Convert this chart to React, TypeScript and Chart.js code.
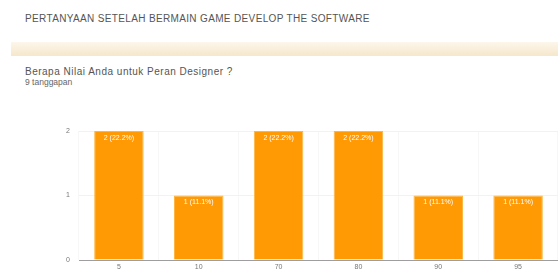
import React, { useEffect, useRef } from "react";
import { Chart, registerables } from "chart.js";

Chart.register(...registerables);

const sectionTitle = "PERTANYAAN SETELAH BERMAIN GAME DEVELOP THE SOFTWARE";
const question = "Berapa Nilai Anda untuk Peran Designer ?";
const responsesText = "9 tanggapan";
const categories = ["5", "10", "70", "80", "90", "95"];
const counts = [2, 1, 2, 2, 1, 1];
const barLabels = ["2 (22.2%)", "1 (11.1%)", "2 (22.2%)", "2 (22.2%)", "1 (11.1%)", "1 (11.1%)"];
const yTicks = [0, 1, 2];

const FONT = "'Liberation Sans', Arial, sans-serif";

const barLabelPlugin = {
  id: "barLabels",
  afterDatasetsDraw(chart: any) {
    const ctx = chart.ctx;
    const meta = chart.getDatasetMeta(0);
    ctx.save();
    ctx.fillStyle = "#ffffff";
    ctx.font = `7px ${FONT}`;
    ctx.textAlign = "center";
    ctx.textBaseline = "middle";
    meta.data.forEach((bar: any, i: number) => {
      ctx.fillText(barLabels[i], bar.x, bar.y + 7);
    });
    ctx.restore();
  },
};

export default function App() {
  const ref = useRef<HTMLCanvasElement | null>(null);

  useEffect(() => {
    document.body.style.margin = "0";
    if (!ref.current) return;
    const chart = new Chart(ref.current, {
      type: "bar",
      data: {
        labels: categories,
        datasets: [
          {
            data: counts,
            backgroundColor: "#ff9a05",
            borderColor: "#ffb540",
            borderWidth: 1,
            categoryPercentage: 1,
            barPercentage: 0.62,
          },
        ],
      },
      options: {
        animation: false,
        responsive: false,
        maintainAspectRatio: false,
        layout: { padding: { top: 21, right: 0, bottom: 0, left: 0 } },
        plugins: { legend: { display: false }, tooltip: { enabled: false } },
        scales: {
          x: {
            offset: true,
            grid: { color: "#f7f7f7", drawTicks: false, offset: true },
            border: { color: "#9e9e9e" },
            ticks: { color: "#777", font: { size: 7, family: FONT }, padding: 3 },
            afterFit(scale: any) {
              scale.height = 14;
            },
          },
          y: {
            min: 0,
            max: 2,
            afterBuildTicks(scale: any) {
              scale.ticks = yTicks.map((v) => ({ value: v }));
            },
            grid: { color: "#f2f2f2", drawTicks: false },
            border: { display: false },
            ticks: { color: "#777", font: { size: 7, family: FONT }, padding: 9 },
            afterFit(scale: any) {
              scale.width = 79;
            },
          },
        },
      },
      plugins: [barLabelPlugin],
    });
    return () => chart.destroy();
  }, []);

  return (
    <div
      style={{
        position: "absolute",
        left: 0,
        top: 0,
        width: 558,
        height: 274,
        background: "#ffffff",
        fontFamily: FONT,
        overflow: "hidden",
      }}
    >
      <div
        style={{
          position: "absolute",
          left: 25,
          top: 13,
          fontSize: 10,
          letterSpacing: 0.35,
          color: "#555",
          whiteSpace: "nowrap",
        }}
      >
        {sectionTitle}
      </div>
      <div
        style={{
          position: "absolute",
          left: 11,
          top: 42,
          width: 547,
          height: 14,
          background: "linear-gradient(#fdf6ea, #f6e7cc)",
        }}
      />
      <div
        style={{
          position: "absolute",
          left: 25,
          top: 66,
          fontSize: 10,
          letterSpacing: 0.5,
          color: "#555",
          whiteSpace: "nowrap",
        }}
      >
        {question}
      </div>
      <div
        style={{
          position: "absolute",
          left: 25,
          top: 77,
          fontSize: 8.5,
          color: "#666",
          whiteSpace: "nowrap",
        }}
      >
        {responsesText}
      </div>
      <canvas
        ref={ref}
        width={558}
        height={164}
        style={{ position: "absolute", left: 0, top: 110, width: 558, height: 164 }}
      />
    </div>
  );
}
